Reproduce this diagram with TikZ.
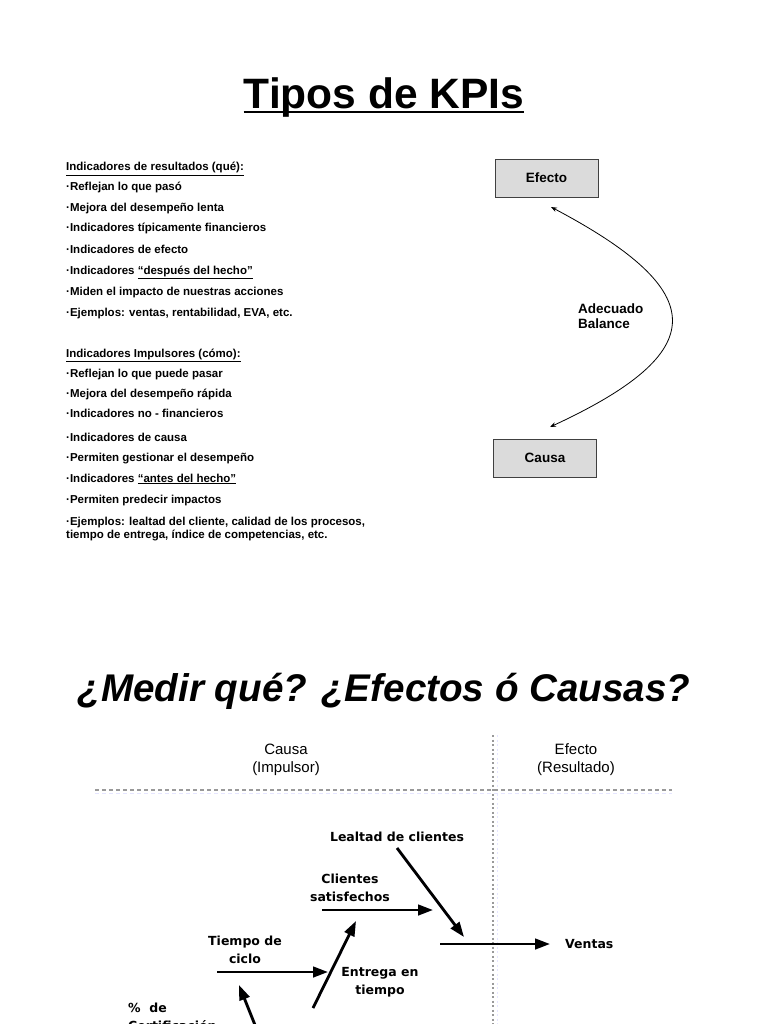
\documentclass[tikz,border=0pt]{standalone}
\usepackage{fontspec}
\setmainfont{Liberation Sans}
\newfontfamily\dvs{DejaVu Sans}
\usetikzlibrary{arrows.meta}
\begin{document}
\begin{tikzpicture}[x=1pt,y=-1pt,
 lt/.style={anchor=base west, font=\fontsize{11.5}{12}\selectfont\bfseries, inner sep=0pt},
 box/.style={draw=black!75, fill=black!14, minimum width=103pt, minimum height=38pt, inner sep=0pt, font=\fontsize{13.5}{15}\selectfont\bfseries},
 lbl/.style={font=\dvs\fontsize{12.5}{18}\selectfont\bfseries, align=center, inner sep=0pt},
 hdr/.style={font=\fontsize{15}{18}\selectfont, align=center, inner sep=0pt},
 fish/.style={line width=2.8pt, -{Triangle[length=15pt,width=10.5pt]}},
 shad/.style={line width=2.8pt, draw=blue!12, -{Triangle[length=15pt,width=10.5pt]}},
 divv/.style={draw=black!40, line width=1.6pt, dash pattern=on 2pt off 2.5pt},
 divh/.style={draw=black!40, line width=1.2pt, dash pattern=on 4pt off 3pt},
]
\useasboundingbox (0,0) rectangle (768,1024);
% Title
\node[font=\fontsize{42.5}{46}\selectfont\bfseries, inner sep=0pt] (t1) at (384,98) {Tipos de KPIs};
\draw[line width=2.6pt] (t1.south west) ++(0,-6) coordinate (u1) -- (t1.south east |- u1);

% Left text group 1
\node[lt] (h1) at (66,171) {\underline{Indicadores de resultados (qué):}};
\node[lt] (a1) at (66,191) {·Reflejan lo que pasó};
\node[lt] (a2) at (66,212) {·Mejora del desempeño lenta};
\node[lt] (a3) at (66,232) {·Indicadores típicamente financieros};
\node[lt] (a4) at (66,253) {·Indicadores de efecto};
\node[lt] (a5) at (66,274) {·Indicadores \underline{“después del hecho”}};
\node[lt] (a6) at (66,295) {·Miden el impacto de nuestras acciones};
\node[lt] (a7) at (66,316) {·Ejemplos: ventas, rentabilidad, EVA, etc.};
% group 2
\node[lt] (h2) at (66,357) {\underline{Indicadores Impulsores (cómo):}};
\node[lt] (b1) at (66,377) {·Reflejan lo que puede pasar};
\node[lt] (b2) at (66,397) {·Mejora del desempeño rápida};
\node[lt] (b3) at (66,417) {·Indicadores no - financieros};
\node[lt] (b4) at (66,441) {·Indicadores de causa};
\node[lt] (b5) at (66,461) {·Permiten gestionar el desempeño};
\node[lt] (b6) at (66,482) {·Indicadores \underline{“antes del hecho”}};
\node[lt] (b7) at (66,503) {·Permiten predecir impactos};
\node[lt] (b8) at (66,525) {·Ejemplos: lealtad del cliente, calidad de los procesos,};
\node[lt] (b9) at (66,538) {tiempo de entrega, índice de competencias, etc.};

% Right diagram
\node[box] (ef) at (546.5,178) {Efecto};
\node[box] (ca) at (545,458) {Causa};
\coordinate (ct) at (551,207);
\coordinate (cb) at (550,427);
\draw[line width=0.8pt, {Stealth[length=6pt,width=4.5pt]}-{Stealth[length=6pt,width=4.5pt]}] (ct) .. controls (712,292) and (712,352) .. (cb);
\node[anchor=west, font=\fontsize{13.5}{15.5}\selectfont\bfseries, align=left, inner sep=0pt] (bal) at (578,316) {Adecuado\\Balance};

% Second title
\node[font=\fontsize{38.6}{42}\selectfont\bfseries\itshape, inner sep=0pt] (t2) at (384,691) {¿Medir qué? ¿Efectos ó Causas?};

% Dividers
\coordinate (vt) at (493,735);
\coordinate (vb) at (493,1024);
\coordinate (hl) at (95,790);
\coordinate (hr) at (672,790);
\draw[draw=blue!10, line width=1pt, dash pattern=on 2pt off 2.5pt] ([xshift=4pt]vt) -- ([xshift=4pt]vb);
\draw[draw=blue!10, line width=1pt, dash pattern=on 4pt off 3pt] ([yshift=-3pt]hl) -- ([yshift=-3pt]hr);
\draw[divv] (vt) -- (vb);
\draw[divh] (hl) -- (hr);

\node[hdr] (hc) at (286,760) {Causa\\(Impulsor)};
\node[hdr] (he) at (576,760) {Efecto\\(Resultado)};

% Fishbone labels
\node[lbl] (lc) at (397,837) {Lealtad de clientes};
\node[lbl] (cs) at (350,888) {Clientes\\satisfechos};
\node[lbl] (tc) at (245,950) {Tiempo de\\ciclo};
\node[lbl] (et) at (380,982) {Entrega en\\tiempo};
\node[lbl, anchor=west] (ve) at (565,944) {Ventas};
\node[lbl, anchor=north west, align=left] (pc) at (128,1003) {\%\ \ de\\Certificación};

% Fishbone coordinates
\coordinate (lcs) at (397,848); \coordinate (lce) at (464,937);
\coordinate (css) at (322,910); \coordinate (cse) at (433,910);
\coordinate (ves) at (440,944); \coordinate (vee) at (550,944);
\coordinate (tcs) at (217,972); \coordinate (tce) at (328,972);
\coordinate (ets) at (313,1008); \coordinate (ete) at (356,921);
\coordinate (pcs) at (257,1030); \coordinate (pce) at (239,985);

% shadows
\begin{scope}[shift={(3,4)}]
\draw[shad] (lcs) -- (lce);
\draw[shad] (css) -- (cse);
\draw[shad] (ves) -- (vee);
\draw[shad] (tcs) -- (tce);
\draw[shad] (ets) -- (ete);
\draw[shad] (pcs) -- (pce);
\end{scope}
% arrows
\draw[fish] (lcs) -- (lce);
\draw[fish] (css) -- (cse);
\draw[fish] (ves) -- (vee);
\draw[fish] (tcs) -- (tce);
\draw[fish] (ets) -- (ete);
\draw[fish] (pcs) -- (pce);
\end{tikzpicture}
\end{document}
